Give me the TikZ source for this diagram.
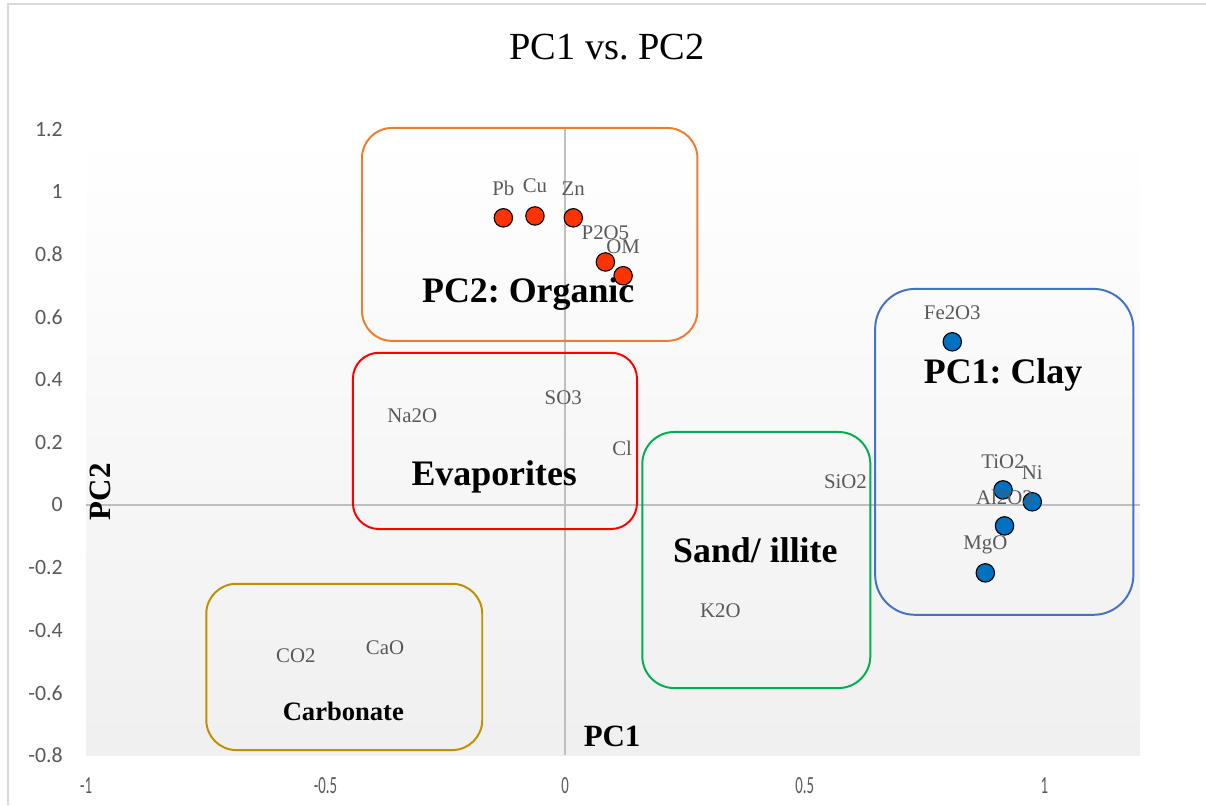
\documentclass[tikz,border=0pt]{standalone}
\usepackage{fontspec}
\setmainfont{Liberation Serif}
\newfontfamily\tickfont{Carlito}
\usetikzlibrary{positioning}
\frenchspacing

\definecolor{ptred}{HTML}{FF3300}
\definecolor{ptblue}{HTML}{0070C0}
\definecolor{boxorange}{HTML}{ED7D31}
\definecolor{boxred}{HTML}{FF0000}
\definecolor{boxgreen}{HTML}{00B050}
\definecolor{boxblue}{HTML}{4472C4}
\definecolor{boxgold}{HTML}{BF9000}
\definecolor{labgray}{HTML}{595959}
\definecolor{axgray}{HTML}{BFBFBF}
\definecolor{framegray}{HTML}{D9D9D9}

\tikzset{
  redpt/.style={circle, draw=black, fill=ptred, line width=0.8pt, minimum size=0.46cm, inner sep=0},
  bluept/.style={circle, draw=black, fill=ptblue, line width=0.8pt, minimum size=0.46cm, inner sep=0},
  ptlabel/.style={on grid, text=labgray, inner sep=0, font=\fontsize{14.8}{16}\selectfont},
  grpbox/.style={line width=1.4pt},
  grplabel/.style={inner sep=0, font=\fontsize{25.5}{28}\selectfont\bfseries},
  ticklabel/.style={text=labgray, inner sep=0, font=\tickfont\fontsize{15.5}{17}\selectfont}
}

\begin{document}
\begin{tikzpicture}[x=0.025cm, y=0.025cm]
\useasboundingbox (0,0) rectangle (1206,805);
\draw[framegray, line width=1.4pt] (8,0) -- (8,801) -- (1206,801);
\node[font=\fontsize{27.3}{30}\selectfont] (title) at (607,758) {PC1 vs. PC2};

\begin{scope}[shift={(14.125cm,7.5cm)}, x=11.975cm, y=7.825cm]
\shade[top color=white, bottom color=black!6] (-1,-0.8) rectangle (1.2,1.2);
\draw[axgray, line width=1pt] (-1,0) -- (1.2,0);
\draw[axgray, line width=1pt] (0,-0.8) -- (0,1.2);

\foreach \v in {-0.8,-0.6,-0.4,-0.2,0,0.2,0.4,0.6,0.8,1,1.2}
  \node[ticklabel, anchor=east] at (-1.048,\v) {\v};
\foreach \v in {-1,-0.5,0,0.5,1}
  \node[ticklabel, font=\tickfont\fontsize{17.5}{19}\selectfont, xscale=0.6] at (\v,-0.895) {\v};

\draw[grpbox, boxorange, rounded corners=0.75cm] (-0.424,0.524) rectangle (0.276,1.204);
\draw[grpbox, boxred, rounded corners=0.65cm] (-0.443,-0.077) rectangle (0.150,0.486);
\draw[grpbox, boxgreen, rounded corners=0.8cm] (0.161,-0.585) rectangle (0.637,0.233);
\draw[grpbox, boxblue, rounded corners=1cm] (0.647,-0.351) rectangle (1.186,0.690);
\draw[grpbox, boxgold, rounded corners=0.75cm] (-0.749,-0.783) rectangle (-0.173,-0.252);

\node[redpt] (pb) at (-0.129,0.917) {};
\node[redpt] (cu) at (-0.063,0.923) {};
\node[redpt] (zn) at (0.017,0.917) {};
\node[redpt] (p2o5) at (0.084,0.776) {};
\node[redpt] (om) at (0.121,0.732) {};

\node[bluept] (fe2o3) at (0.808,0.521) {};
\node[bluept] (tio2) at (0.914,0.048) {};
\node[bluept] (ni) at (0.975,0.010) {};
\node[bluept] (al2o3) at (0.917,-0.067) {};
\node[bluept] (mgo) at (0.877,-0.217) {};

\node[ptlabel, above=0.725cm of pb] (pblab) {Pb};
\node[ptlabel, above=0.75cm of cu] (culab) {Cu};
\node[ptlabel, above=0.725cm of zn] (znlab) {Zn};
\node[ptlabel, above=0.74cm of p2o5] (p2o5lab) {P2O5};
\node[ptlabel, above=0.725cm of om] (omlab) {OM};
\node[ptlabel, above=0.725cm of fe2o3] (fe2o3lab) {Fe2O3};
\node[ptlabel, above=0.7cm of tio2] (tio2lab) {TiO2};
\node[ptlabel, above=0.725cm of ni] (nilab) {Ni};
\node[ptlabel, above=0.725cm of al2o3] (al2o3lab) {Al2O3};
\node[ptlabel, above=0.7cm of mgo] (mgolab) {MgO};

\node[ptlabel] (na2o) at (-0.319,0.284) {Na2O};
\node[ptlabel] (so3) at (-0.004,0.342) {SO3};
\node[ptlabel] (cl) at (0.119,0.182) {Cl};
\node[ptlabel] (sio2) at (0.585,0.073) {SiO2};
\node[ptlabel] (k2o) at (0.324,-0.339) {K2O};
\node[ptlabel] (co2) at (-0.562,-0.482) {CO2};
\node[ptlabel] (cao) at (-0.376,-0.457) {CaO};

\node[grplabel] (organic) at (-0.077,0.674) {PC2: Organic};
\node[grplabel] (clay) at (0.914,0.415) {PC1: Clay};
\node[grplabel] (evap) at (-0.148,0.089) {Evaporites};
\node[grplabel] (sand) at (0.397,-0.144) {Sand/ illite};
\node[grplabel, font=\fontsize{18.9}{21}\selectfont\bfseries] (carb) at (-0.463,-0.661) {Carbonate};

\node[inner sep=0, font=\fontsize{22}{24}\selectfont\bfseries] (pc1ax) at (0.098,-0.738) {PC1};
\node[inner sep=0, rotate=90, font=\fontsize{22}{24}\selectfont\bfseries] (pc2ax) at (-0.971,0.042) {PC2};
\end{scope}
\end{tikzpicture}
\end{document}
